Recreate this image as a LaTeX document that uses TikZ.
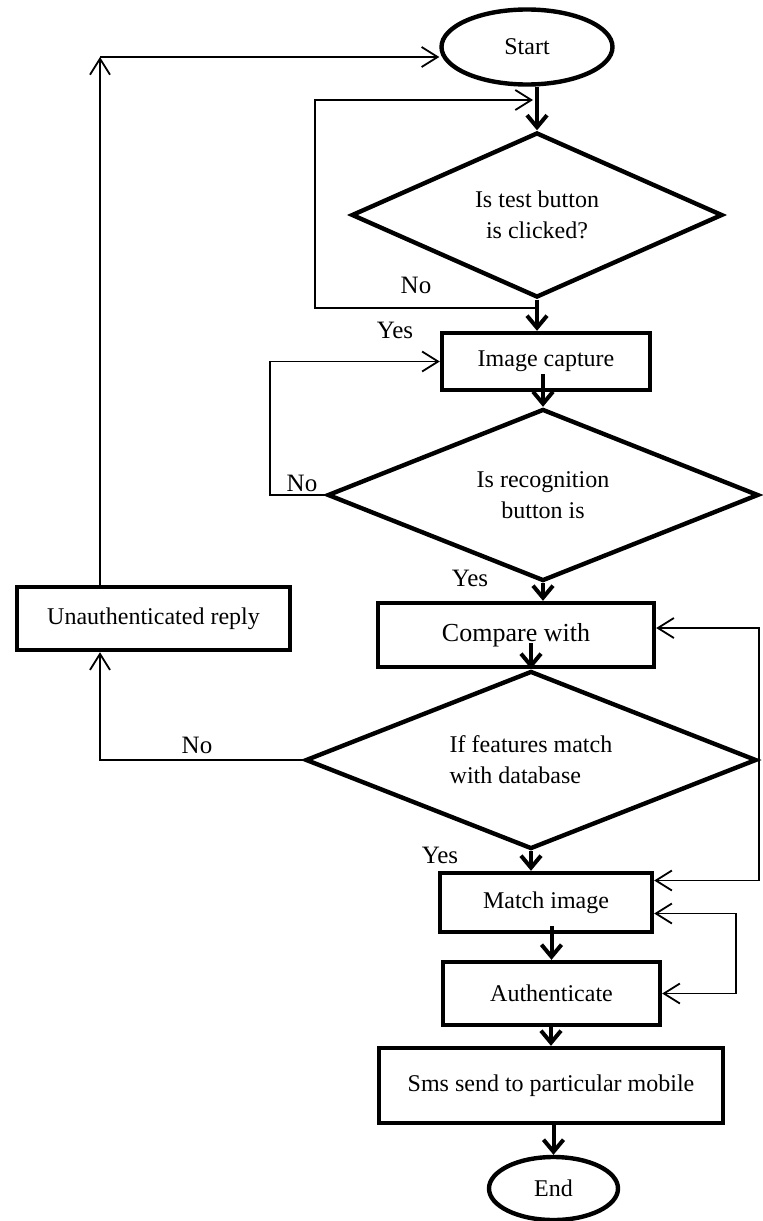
\documentclass[tikz,border=0pt]{standalone}
\usepackage{fontspec}
\setmainfont{Liberation Serif}
\usetikzlibrary{shapes.geometric,arrows.meta}

\begin{document}
\begin{tikzpicture}[x=0.5pt,y=-0.5pt,
  box/.style={draw,line width=2.2pt,rectangle,inner sep=2pt,font=\fontsize{12}{14}\selectfont},
  oval/.style={draw,line width=2.2pt,ellipse,inner sep=0pt,font=\fontsize{12}{14}\selectfont},
  decide/.style={draw,line width=2.2pt,diamond,aspect=2.5,inner sep=0pt,align=center,font=\fontsize{12}{15.5}\selectfont},
  flow/.style={line width=2pt,-{Straight Barb[length=6pt,width=10pt]}},
  back/.style={line width=0.9pt,-{Straight Barb[length=8pt,width=10pt]}},
  lbl/.style={font=\fontsize{12.5}{14}\selectfont}]
  \useasboundingbox (0,0) rectangle (763,1221);

  \node[oval,minimum width=85.5pt,minimum height=37.5pt] (start) at (527,47) {Start};
  \node[decide,minimum width=185.5pt,minimum height=82.5pt] (test) at (537,215) {Is test button\\is clicked?};
  \node[box,minimum width=104pt,minimum height=28.5pt] (capture) at (546,361.5) {Image capture};
  \node[decide,minimum width=215.5pt,minimum height=86pt] (recog) at (543,495) {Is recognition\\button is};
  \node[box,minimum width=138pt,minimum height=32pt,font=\fontsize{13}{15}\selectfont] (compare) at (516,635) {Compare with};
  \node[box,minimum width=136.5pt,minimum height=31.5pt] (unauth) at (153.5,618.5) {Unauthenticated reply};
  \node[decide,minimum width=225.5pt,minimum height=89pt,align=left] (feat) at (531,760) {If features match\\with database};
  \node[box,minimum width=106pt,minimum height=29.5pt] (match) at (546,902.5) {Match image};
  \node[box,minimum width=108.5pt,minimum height=31.5pt] (auth) at (551.5,993.5) {Authenticate};
  \node[box,minimum width=172pt,minimum height=37.5pt] (sms) at (551,1085.5) {Sms send to particular mobile};
  \node[oval,minimum width=64.5pt,minimum height=31.5pt] (end) at (553.5,1188.5) {End};

  \draw[flow] (test.north |- start.south) -- (test.north);
  \draw[flow] (test.south) -- (test.south |- capture.north);
  \draw[flow] ([yshift=9pt]capture.south -| recog.north) -- (recog.north);
  \draw[flow] (recog.south) -- (recog.south |- compare.north);
  \draw[flow] ([yshift=13pt]compare.south -| feat.north) -- (feat.north);
  \draw[flow] (feat.south) -- (feat.south |- match.north);
  \draw[flow] ([yshift=4pt]match.south -| auth.north) -- (auth.north);
  \draw[flow] (auth.south -| sms.north) -- (sms.north);
  \draw[flow] (sms.south -| end.north) -- (end.north);

  \coordinate (top) at (100,57);
  \coordinate (testin) at (533,100);
  \draw[back] ([yshift=-4pt]test.south) -- ++(-222,0) |- (testin);
  \draw[back] (recog.west) -- ++(-55,0) |- (capture.west);
  \draw[back] (feat.west) -| ([xshift=-26.75pt]unauth.south);
  \draw[back] ([xshift=-26.75pt]unauth.north) -- (top);
  \draw[back] (top) -- (start.west |- top);
  \draw[back] (feat.east) |- ([yshift=3.5pt]compare.east);
  \draw[back] (feat.east) |- ([yshift=11pt]match.east);
  \draw[line width=0.9pt,{Straight Barb[length=8pt,width=10pt]}-{Straight Barb[length=8pt,width=10pt]}] ([yshift=-5.5pt]match.east) -- ++(82,0) |- (auth.east);

  \node[lbl] (no1) at (416,285) {No};
  \node[lbl] (yes1) at (395,330) {Yes};
  \node[lbl] (no2) at (302,483) {No};
  \node[lbl] (yes2) at (470,578) {Yes};
  \node[lbl] (no3) at (197,745) {No};
  \node[lbl] (yes3) at (440,855) {Yes};
\end{tikzpicture}
\end{document}
